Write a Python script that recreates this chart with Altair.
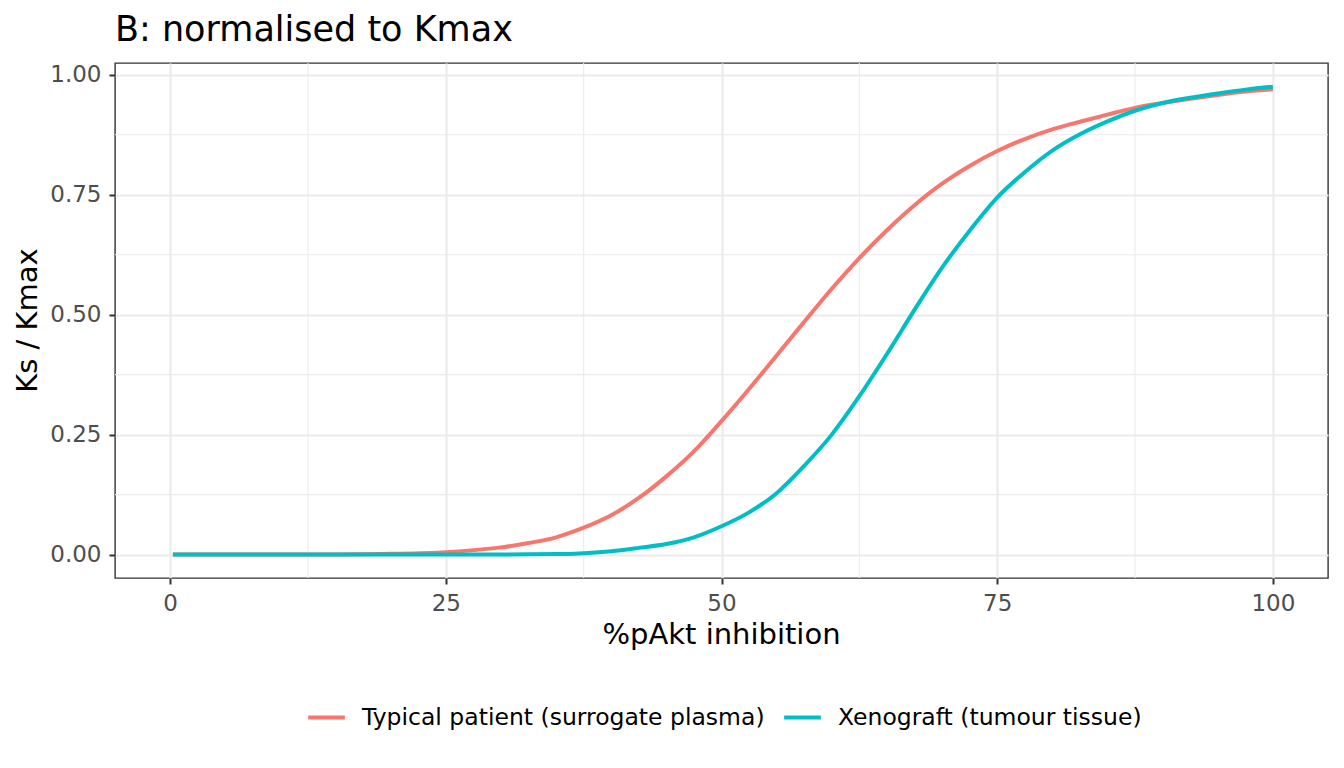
import altair as alt
import pandas as pd

# ---- data ----
x_values = [0.25, 5, 10, 15, 20, 25, 30, 32.5, 35, 37.5, 40, 42.5, 45, 47.5, 50,
            52.5, 55, 57.5, 60, 62.5, 65, 67.5, 70, 72.5, 75, 77.5, 80,
            82.5, 85, 87.5, 90, 92.5, 95, 97.5, 100]
typical_patient = [0.0, 0.0, 0.0, 0.0003, 0.0015, 0.005, 0.015, 0.024, 0.036, 0.056,
                   0.082, 0.118, 0.163, 0.215, 0.278, 0.345, 0.415, 0.485, 0.554,
                   0.618, 0.676, 0.728, 0.773, 0.810, 0.841, 0.866, 0.886,
                   0.902, 0.917, 0.931, 0.941, 0.950, 0.958, 0.965, 0.970]
xenograft = [0.0, 0.0, 0.0, 0.0, 0.0, 0.0001, 0.0003, 0.0006, 0.001, 0.003,
             0.007, 0.014, 0.022, 0.036, 0.059, 0.088, 0.128, 0.185, 0.250,
             0.330, 0.418, 0.510, 0.598, 0.675, 0.744, 0.797, 0.842,
             0.876, 0.903, 0.925, 0.941, 0.952, 0.961, 0.969, 0.975]
series_names = ["Typical patient (surrogate plasma)", "Xenograft (tumour tissue)"]
series_colors = ["#F8766D", "#00BFC4"]

x_major = [0, 25, 50, 75, 100]
x_minor = [12.5, 37.5, 62.5, 87.5]
y_major = [0.0, 0.25, 0.5, 0.75, 1.0]
y_minor = [0.125, 0.375, 0.625, 0.875]

df = pd.DataFrame({
    "x": x_values * 2,
    "y": typical_patient + xenograft,
    "series": [series_names[0]] * len(x_values) + [series_names[1]] * len(x_values),
    "order": list(range(len(x_values))) * 2,
})
minor_x_df = pd.DataFrame({"v": x_minor})
minor_y_df = pd.DataFrame({"v": y_minor})

FONT = "DejaVu Sans"
x_scale = alt.Scale(domain=[-5, 105], nice=False, zero=False)
y_scale = alt.Scale(domain=[-0.0488, 1.0245], nice=False, zero=False)

minor_v = alt.Chart(minor_x_df).mark_rule(color="#EBEBEB", strokeWidth=1.1).encode(
    x=alt.X("v:Q", scale=x_scale)
)
minor_h = alt.Chart(minor_y_df).mark_rule(color="#EBEBEB", strokeWidth=1.1).encode(
    y=alt.Y("v:Q", scale=y_scale)
)

lines = alt.Chart(df).mark_line(strokeWidth=4, interpolate="monotone").encode(
    x=alt.X("x:Q", scale=x_scale,
            axis=alt.Axis(values=x_major, format="d", title="%pAkt inhibition",
                          titleX=606, titleY=65, titleBaseline="alphabetic",
                          titleAlign="center", labelPadding=8)),
    y=alt.Y("y:Q", scale=y_scale,
            axis=alt.Axis(values=y_major, format=".2f", title="Ks / Kmax",
                          titleX=-79, titleY=257, titleBaseline="alphabetic",
                          titleAlign="center", titleAngle=-90, labelPadding=8)),
    color=alt.Color("series:N",
                    scale=alt.Scale(domain=series_names, range=series_colors),
                    legend=alt.Legend(title=None, orient="none", direction="horizontal",
                                      legendX=191, legendY=634,
                                      symbolType="stroke", symbolSize=1347,
                                      symbolStrokeWidth=4.2, labelOffset=15,
                                      columnPadding=10, labelFontSize=23.5,
                                      labelLimit=0,
                                      labelFont=FONT, labelColor="#000000")),
    order="order:Q",
    detail="series:N",
)

chart = alt.layer(minor_v, minor_h, lines).properties(
    width=1213,
    height=515,
    padding={"left": 107, "top": 55, "right": 4, "bottom": 170},
    autosize=alt.AutoSizeParams(type="none"),
    background="white",
    title=alt.TitleParams("B: normalised to Kmax", anchor="start", frame="group",
                          fontSize=35, font=FONT, fontWeight="normal",
                          color="#000000", offset=14),
).configure_view(
    stroke="#333333", strokeWidth=1.4
).configure_axis(
    labelFont=FONT, labelFontSize=23, labelColor="#4D4D4D",
    titleFont=FONT, titleFontSize=29, titleFontWeight="normal", titleColor="#000000",
    tickColor="#333333", tickWidth=2, tickSize=6,
    domain=False, grid=True, gridColor="#EBEBEB", gridWidth=2.2,
)

chart.save("out.html", embed_options={"renderer": "svg", "actions": False})
